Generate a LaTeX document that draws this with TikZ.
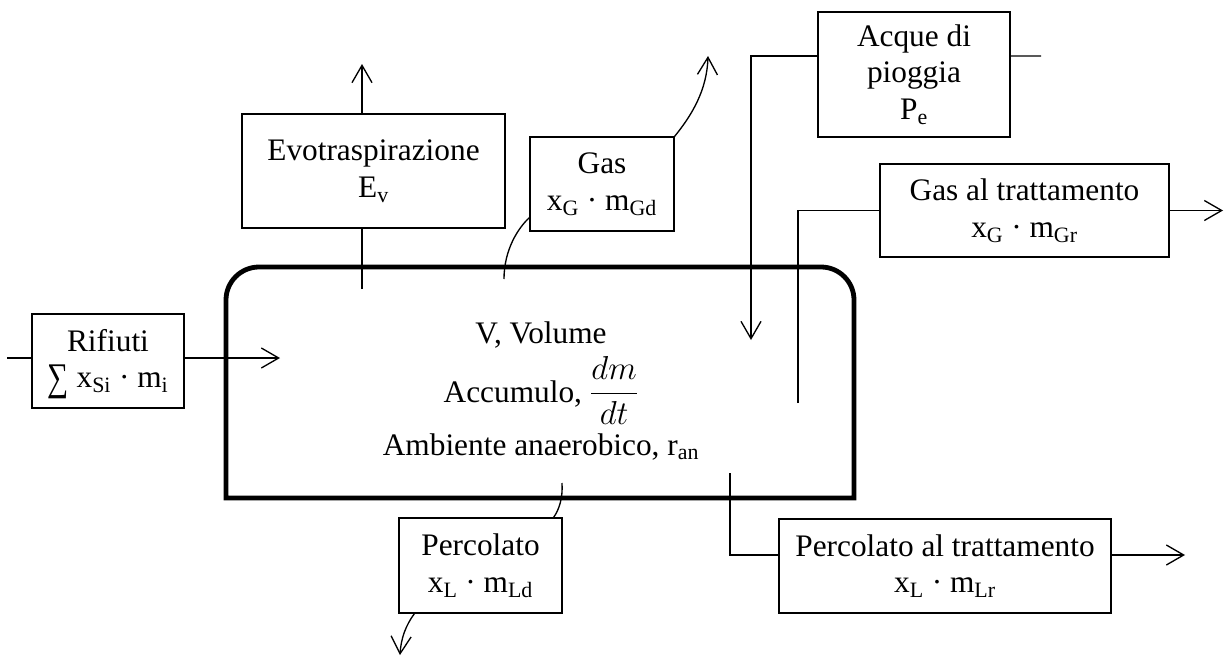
\documentclass[tikz,border=0pt]{standalone}
\usepackage{fontspec}
\setmainfont{Liberation Serif}
\usetikzlibrary{arrows.meta}
\newcommand{\bigsumsym}{\smash{\raisebox{-2pt}{\scalebox{0.95}[1.25]{∑}}}}
\begin{document}
\begin{tikzpicture}[x=0.75pt,y=-0.75pt,
  txt/.style={font=\fontsize{23.5}{27.5}\selectfont},
  box/.style={txt, draw, line width=0.8pt, inner sep=0pt, align=center},
  conn/.style={line width=1pt},
  arr/.style={conn, -{Straight Barb[length=13pt,width=15pt]}},
  wall/.style={line width=3.6pt, line join=miter}]
\useasboundingbox (0,0) rectangle (1225,657);

% landfill body
\draw[wall] (226,498) -- (226,300) arc[start angle=180,end angle=270,radius=33]
  -- (821,267) arc[start angle=270,end angle=360,radius=33] -- (854,498) -- cycle;
\node[txt, anchor=base] (m1) at (541,343) {V, Volume};
\node[txt, anchor=base] (m2) at (541,402) {Accumulo, $\displaystyle\frac{dm}{dt}$};
\node[txt, anchor=base] (m3) at (541,455) {Ambiente anaerobico, r\textsubscript{an}};

% boxes
\node[box, minimum width=114pt, minimum height=70.5pt] (rif) at (108,361)
  {Rifiuti\\\bigsumsym\ x\textsubscript{Si} · m\textsubscript{i}};
\node[box, minimum width=197.25pt, minimum height=85.5pt] (evo) at (373.5,171)
  {Evotraspirazione\\E\textsubscript{v}};
\node[box, minimum width=108pt, minimum height=70.5pt] (gas) at (602,184)
  {Gas\\x\textsubscript{G} · m\textsubscript{Gd}};
\node[box, minimum width=144pt, minimum height=93.75pt] (acq) at (914,74.5)
  {Acque di\\pioggia\\P\textsubscript{e}};
\node[box, minimum width=216.75pt, minimum height=69.75pt] (gt) at (1024.5,210.5)
  {Gas al trattamento\\x\textsubscript{G} · m\textsubscript{Gr}};
\node[box, minimum width=122.25pt, minimum height=71.25pt] (perc) at (480.5,565.5)
  {Percolato\\x\textsubscript{L} · m\textsubscript{Ld}};
\node[box, minimum width=249pt, minimum height=70.5pt] (ptr) at (945,566)
  {Percolato al trattamento\\x\textsubscript{L} · m\textsubscript{Lr}};

% free ends
\coordinate (r0) at (7,358);
\coordinate (r1) at (280,358);
\coordinate (e0) at (362,289);
\coordinate (e1) at (362,64);
\coordinate (g0) at (504,279);
\coordinate (g2) at (708,56);
\coordinate (a1) at (751,340);
\coordinate (a2) at (1041,56);
\coordinate (t0) at (798,403);
\coordinate (t1) at (1223,210.5);
\coordinate (p0) at (562,483);
\coordinate (p1) at (400,655);
\coordinate (q0) at (730,473);
\coordinate (q1) at (1185,555);

% connectors
\draw[conn] (r0) -- (r0 -| rif.west);
\draw[arr] (r1 -| rif.east) -- (r1);
\draw[conn] (e0) -- (e0 |- evo.south);
\draw[arr] (e0 |- evo.north) -- (e1);
\draw[conn] (g0) .. controls (504,250) and (518,228) .. ([yshift=10.5pt]gas.south west);
\draw[arr] (gas.north east) .. controls (692,115) and (707,90) .. (g2);
\draw[arr] ([yshift=13.9pt]acq.west) -| (a1);
\draw[conn] ([yshift=13.9pt]acq.east) -- (a2);
\draw[conn] (t0) |- (gt.west);
\draw[arr] (gt.east) -- (t1);
\draw[conn] (p0) .. controls (563,498) and (559,510) .. ([xshift=-6.75pt]perc.north east);
\draw[arr] ([xshift=12pt]perc.south west) .. controls (406,625) and (401,638) .. (p1);
\draw[conn] (q0) |- ([yshift=8.25pt]ptr.west);
\draw[arr] ([yshift=8.25pt]ptr.east) -- (q1);
\end{tikzpicture}
\end{document}
